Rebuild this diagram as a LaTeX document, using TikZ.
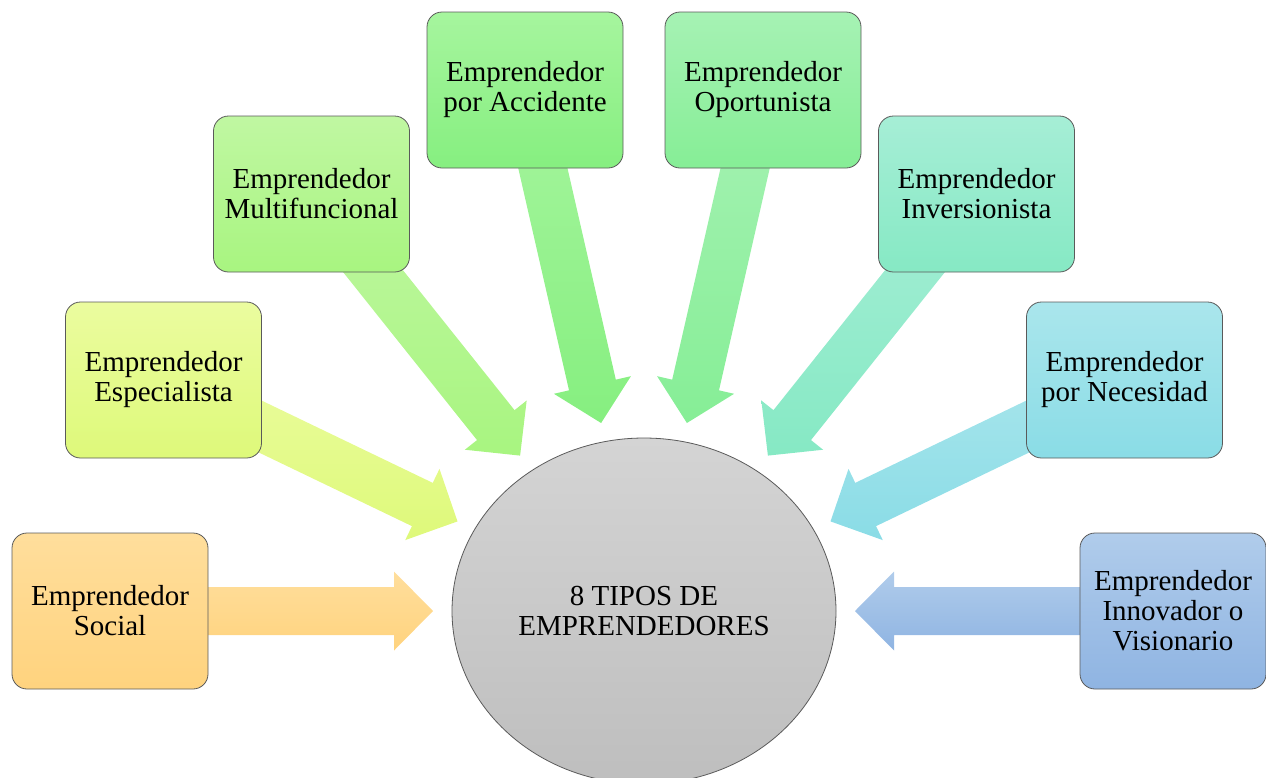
\documentclass[tikz,border=0pt]{standalone}
\usepackage{fontspec}
\setmainfont{Liberation Serif}
\usetikzlibrary{calc,shapes.geometric}
\definecolor{c1t}{HTML}{FFDE9C}\definecolor{c1b}{HTML}{FFD37E}
\definecolor{c2t}{HTML}{EBFC9F}\definecolor{c2b}{HTML}{DEF97A}
\definecolor{c3t}{HTML}{C0F7A2}\definecolor{c3b}{HTML}{A8F580}
\definecolor{c4t}{HTML}{A6F59E}\definecolor{c4b}{HTML}{86EF80}
\definecolor{c5t}{HTML}{A6F2B4}\definecolor{c5b}{HTML}{86EE96}
\definecolor{c6t}{HTML}{A6EED6}\definecolor{c6b}{HTML}{86E9C4}
\definecolor{c7t}{HTML}{AAE6EC}\definecolor{c7b}{HTML}{8ADCE6}
\definecolor{c8t}{HTML}{B0CCEB}\definecolor{c8b}{HTML}{8FB4E2}
\definecolor{ct}{HTML}{D4D4D4}\definecolor{cb}{HTML}{BEBEBE}
\definecolor{edge}{HTML}{5A5A5A}
\tikzset{
  x=1pt, y=-1pt,
  typebox/.style 2 args={draw=edge, line width=0.8pt, rounded corners=15pt,
    top color=#1, bottom color=#2, minimum width=196pt, minimum height=156pt,
    inner sep=0pt, align=center, font=\fontsize{29}{30}\selectfont},
  hub/.style={ellipse, draw=edge, line width=0.8pt, top color=ct, bottom color=cb,
    minimum width=384pt, minimum height=346pt, inner sep=0pt, align=center,
    font=\fontsize{29}{30}\selectfont},
  arrowfill/.style 2 args={top color=#1, bottom color=#2, draw=none}
}
\newcommand{\blockarrow}[4]{%
  \path[arrowfill={#3}{#4}]
    ($(#1)!24pt!90:(#2)$) -- ($($(#2)!39pt!(#1)$)!24pt!90:(#2)$)
    -- ($($(#2)!39pt!(#1)$)!39.5pt!90:(#2)$) -- (#2)
    -- ($($(#2)!39pt!(#1)$)!39.5pt!-90:(#2)$) -- ($($(#2)!39pt!(#1)$)!24pt!-90:(#2)$)
    -- ($(#1)!24pt!-90:(#2)$) -- cycle;}
\begin{document}
\begin{tikzpicture}
\useasboundingbox (0,0) rectangle (1266,777);
\clip (0,0) rectangle (1266,777);
% box centres and arrow tips
\coordinate (p1) at (110,611);    \coordinate (t1) at (433,611);
\coordinate (p2) at (163.5,380);  \coordinate (t2) at (457.5,521.4);
\coordinate (p3) at (311.5,194);  \coordinate (t3) at (520.1,455.6);
\coordinate (p4) at (525,90);     \coordinate (t4) at (601.1,423);
\coordinate (p5) at (763,90);     \coordinate (t5) at (686.9,423);
\coordinate (p6) at (976.5,194);  \coordinate (t6) at (767.9,455.6);
\coordinate (p7) at (1124.5,380); \coordinate (t7) at (830.5,521.4);
\coordinate (p8) at (1178,611);   \coordinate (t8) at (855,611);
% arrows
\blockarrow{p1}{t1}{c1t}{c1b}
\blockarrow{p2}{t2}{c2t}{c2b}
\blockarrow{p3}{t3}{c3t}{c3b}
\blockarrow{p4}{t4}{c4t}{c4b}
\blockarrow{p5}{t5}{c5t}{c5b}
\blockarrow{p6}{t6}{c6t}{c6b}
\blockarrow{p7}{t7}{c7t}{c7b}
\blockarrow{p8}{t8}{c8t}{c8b}
% centre
\node[hub] (hub) at (644,611) {8 TIPOS DE\\EMPRENDEDORES};
% boxes
\node[typebox={c1t}{c1b}] (b1) at (p1) {Emprendedor\\Social};
\node[typebox={c2t}{c2b}] (b2) at (p2) {Emprendedor\\Especialista};
\node[typebox={c3t}{c3b}] (b3) at (p3) {Emprendedor\\Multifuncional};
\node[typebox={c4t}{c4b}] (b4) at (p4) {Emprendedor\\por Accidente};
\node[typebox={c5t}{c5b}] (b5) at (p5) {Emprendedor\\Oportunista};
\node[typebox={c6t}{c6b}] (b6) at (p6) {Emprendedor\\Inversionista};
\node[typebox={c7t}{c7b}] (b7) at (p7) {Emprendedor\\por Necesidad};
\node[typebox={c8t}{c8b}, minimum width=186pt] (b8) at (1173,611) {Emprendedor\\Innovador o\\Visionario};
\end{tikzpicture}
\end{document}
